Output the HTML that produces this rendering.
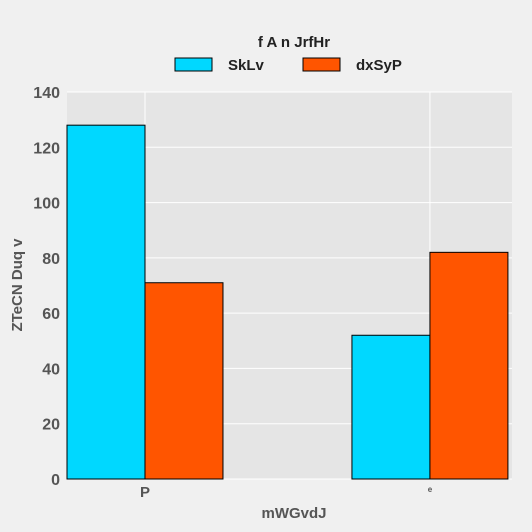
<!DOCTYPE html>
<html><head><meta charset="utf-8"><style>
body{margin:0;background:#f0f0f0;}
svg{display:block;font-family:"Liberation Sans",sans-serif;font-weight:bold;}
</style></head><body>
<svg id="chart" width="532" height="532">
<rect width="532" height="532" fill="#f0f0f0"/>
<rect x="67" y="92" width="445" height="387" fill="#e5e5e5"/>
<g id="grid"></g><g id="bars"></g><g id="ticks"></g>
<text x="294" y="47" text-anchor="middle" font-size="15" fill="#222">f A n JrfHr</text>
<g>
<rect x="175" y="58" width="37" height="13" fill="#00d8ff" stroke="#000" stroke-width="1"/>
<text x="228" y="70" font-size="15" fill="#222">SkLv</text></g>
<g>
<rect x="303" y="58" width="37" height="13" fill="#ff5500" stroke="#000" stroke-width="1"/>
<text x="356" y="70" font-size="15" fill="#222">dxSyP</text></g>
<text x="294" y="518" text-anchor="middle" font-size="15" fill="#555">mWGvdJ</text>
<text transform="translate(22,285) rotate(-90)" text-anchor="middle" font-size="15" fill="#555">ZTeCN Duq v</text>
</svg>
<script>
const categories=["P","e"];
const seriesNames=["SkLv","dxSyP"];
const sklv=[128,52];
const dxsyp=[71,82];
const yTicks=[0,20,40,60,80,100,120,140];
const ns="http://www.w3.org/2000/svg";
const X0=67,X1=512,Y0=479,Y1=92;
const xMin=-0.2737,xMax=1.288,yMax=140;
const xs=v=>X0+(v-xMin)/(xMax-xMin)*(X1-X0);
const ys=v=>Y0-v/yMax*(Y0-Y1);
const bw=0.2737;
function mk(t,a,p){const e=document.createElementNS(ns,t);for(const k in a)e.setAttribute(k,a[k]);p.appendChild(e);return e;}
const grid=document.getElementById('grid'),bars=document.getElementById('bars'),ticks=document.getElementById('ticks');
yTicks.forEach(v=>{
 const l=mk('line',{x1:X0,x2:X1,y1:ys(v),y2:ys(v),stroke:'#fff','stroke-width':1},grid);
 
 
 const t=mk('text',{x:60,y:ys(v)+6,'text-anchor':'end','font-size':16,fill:'#555'},ticks);
 t.textContent=v;
 
 
});
categories.forEach((c,i)=>{
 const g=mk('line',{x1:xs(i),x2:xs(i),y1:Y1,y2:Y0,stroke:'#fff','stroke-width':1},grid);
 
 
 const t=mk('text',{x:xs(i),y:i===0?497:492,'text-anchor':'middle','font-size':i===0?15:8,fill:'#555'},ticks);
 t.textContent=c;
 
 
 const a=mk('rect',{x:xs(i-bw),y:ys(sklv[i]),width:xs(i)-xs(i-bw),height:Y0-ys(sklv[i]),fill:'#00d8ff',stroke:'#000','stroke-width':1},bars);
 
 
 const b=mk('rect',{x:xs(i),y:ys(dxsyp[i]),width:xs(i+bw)-xs(i),height:Y0-ys(dxsyp[i]),fill:'#ff5500',stroke:'#000','stroke-width':1},bars);
 
 
});
</script>
</body></html>
